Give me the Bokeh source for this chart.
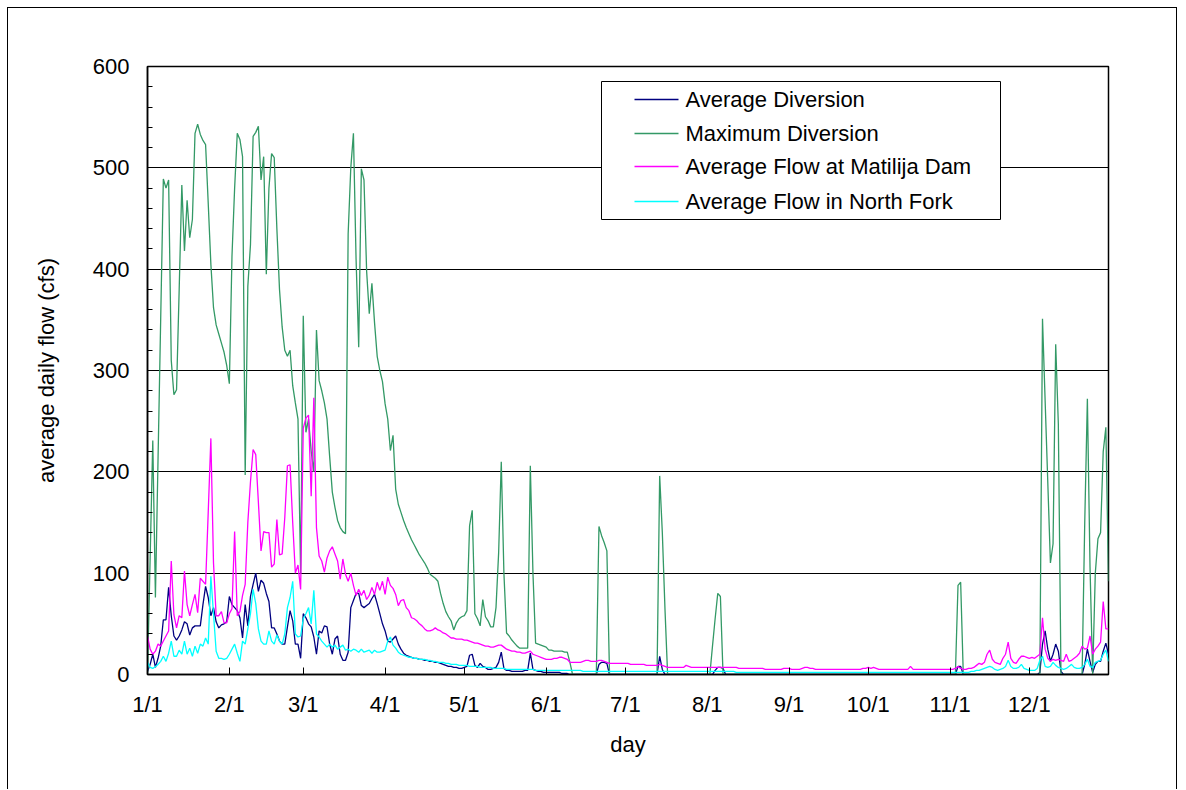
from bokeh.plotting import figure
from bokeh.models import Range1d, FixedTicker, BoxAnnotation
from bokeh.core.properties import value
from bokeh.embed import file_html
from bokeh.resources import INLINE

# ---------------- data (daily values, Jan 1 .. Dec 31) ----------------
month_labels = ["1/1", "2/1", "3/1", "4/1", "5/1", "6/1", "7/1", "8/1", "9/1", "10/1", "11/1", "12/1"]
month_start_day = [0, 31, 59, 90, 120, 151, 181, 212, 243, 273, 304, 334]
y_major = [0, 100, 200, 300, 400, 500, 600]
y_minor = [0, 20, 40, 60, 80, 100, 120, 140, 160, 180, 200, 220, 240, 260, 280, 300,
           320, 340, 360, 380, 400, 420, 440, 460, 480, 500, 520, 540, 560, 580, 600]

series_names = ["Average Diversion", "Maximum Diversion",
                "Average Flow at Matilija Dam", "Average Flow in North Fork"]

avg_diversion = [
    3, 10, 20, 7, 16, 28, 54, 54, 86, 58, 38, 34, 38, 44, 52, 50, 39, 46, 48, 48, 48, 69, 87, 76, 58, 66, 52, 46, 49, 50, 52,
    77, 69, 66, 63, 56, 36, 69, 48, 77, 89, 100, 82, 93, 90, 80, 72, 46, 46, 40, 33, 30, 30, 47, 63, 53, 30, 30, 16,
    60, 56, 50, 47, 37, 20, 43, 41, 48, 47, 30, 20, 35, 38, 20, 14, 14, 22, 66, 73, 80, 80, 68, 66, 68, 70, 75, 79, 70, 60, 50,
    43, 33, 32, 35, 38, 30, 25, 21, 19, 18, 17, 16, 16, 15, 15, 14, 14, 13, 13, 12, 12, 11, 10, 9, 8, 8, 7, 7, 6, 6,
    7, 8, 19, 20, 9, 7, 11, 8, 7, 5, 5, 6, 7, 12, 22, 6, 4, 4, 3, 3, 3, 3, 3, 4, 4, 21, 5, 4, 3, 3, 2,
    2, 2, 2, 2, 2, 2, 1, 1, 1, 0, 0, 0, 0, 0, 0, 0, 0, 0, 0, 0, 10, 12, 12, 11, 0, 0, 0, 0, 0, 0,
    0, 0, 0, 0, 0, 0, 0, 0, 0, 0, 0, 0, 0, 18, 5, 0, 0, 0, 0, 0, 0, 0, 0, 0, 0, 0, 0, 0, 0, 0, 0,
    0, 0, 0, 4, 7, 7, 6, 0, 0, 0, 0, 0, 0, 0, 0, 0, 0, 0, 0, 0, 0, 0, 0, 0, 0, 0, 0, 0, 0, 0, 0,
    0, 0, 0, 0, 0, 0, 0, 0, 0, 0, 0, 0, 0, 0, 0, 0, 0, 0, 0, 0, 0, 0, 0, 0, 0, 0, 0, 0, 0, 0,
    0, 0, 0, 0, 0, 0, 0, 0, 0, 0, 0, 0, 0, 0, 0, 0, 0, 0, 0, 0, 0, 0, 0, 0, 0, 0, 0, 0, 0, 0, 0,
    0, 0, 0, 8, 8, 0, 0, 0, 0, 0, 0, 0, 0, 0, 0, 0, 0, 0, 0, 0, 0, 0, 0, 0, 0, 0, 0, 0, 0, 0,
    0, 0, 0, 0, 2, 30, 43, 25, 13, 20, 30, 23, 3, 0, 0, 0, 0, 0, 0, 0, 0, 10, 25, 13, 2, 10, 13, 13, 23, 31, 20,
]

max_diversion = [
    0, 115, 231, 76, 214, 351, 489, 480, 488, 310, 276, 281, 380, 483, 418, 468, 431, 449, 534, 543, 533, 527, 523, 465, 405, 362, 345, 336, 327, 318, 305,
    287, 413, 480, 534, 528, 511, 197, 383, 424, 531, 535, 541, 488, 511, 395, 480, 514, 510, 440, 380, 343, 320, 314, 320, 285, 268, 252, 100,
    354, 239, 252, 220, 200, 340, 290, 280, 268, 252, 215, 180, 165, 152, 145, 141, 139, 435, 500, 534, 410, 323, 499, 488, 398, 356, 386, 347, 314, 300, 289,
    267, 252, 221, 236, 183, 168, 160, 152, 145, 139, 133, 128, 123, 118, 114, 110, 105, 99, 97, 95, 92, 80, 70, 62, 57, 53, 44, 51, 55, 57,
    58, 63, 147, 162, 60, 55, 48, 74, 57, 53, 47, 47, 66, 120, 210, 100, 41, 38, 34, 31, 28, 26, 26, 26, 26, 206, 100, 31, 30, 29, 28,
    27, 24, 24, 23, 23, 23, 23, 22, 22, 12, 0, 0, 0, 0, 0, 0, 0, 0, 0, 0, 146, 137, 130, 122, 0, 0, 0, 0, 0, 0,
    0, 0, 0, 0, 0, 0, 0, 0, 0, 0, 0, 0, 0, 196, 140, 65, 0, 0, 0, 0, 0, 0, 0, 0, 0, 0, 0, 0, 0, 0, 0,
    0, 0, 28, 55, 80, 77, 0, 0, 0, 0, 0, 0, 0, 0, 0, 0, 0, 0, 0, 0, 0, 0, 0, 0, 0, 0, 0, 0, 0, 0, 0,
    0, 0, 0, 0, 0, 0, 0, 0, 0, 0, 0, 0, 0, 0, 0, 0, 0, 0, 0, 0, 0, 0, 0, 0, 0, 0, 0, 0, 0, 0,
    0, 0, 0, 0, 0, 0, 0, 0, 0, 0, 0, 0, 0, 0, 0, 0, 0, 0, 0, 0, 0, 0, 0, 0, 0, 0, 0, 0, 0, 0, 0,
    0, 0, 0, 88, 91, 0, 0, 0, 0, 0, 0, 0, 0, 0, 0, 0, 0, 0, 0, 0, 0, 0, 0, 0, 0, 0, 0, 0, 0, 0,
    0, 0, 0, 0, 0, 351, 270, 190, 110, 129, 326, 247, 0, 0, 0, 0, 0, 0, 0, 0, 0, 150, 272, 106, 0, 100, 134, 140, 220, 244, 92,
]

avg_flow_matilija = [
    38, 25, 20, 23, 30, 28, 33, 38, 43, 112, 59, 46, 58, 56, 102, 69, 58, 69, 79, 61, 95, 92, 89, 160, 233, 110, 58, 58, 62, 51, 51,
    60, 65, 141, 58, 62, 78, 89, 150, 190, 222, 217, 170, 122, 141, 140, 140, 106, 109, 153, 118, 119, 155, 206, 207, 150, 100, 108, 84,
    243, 253, 256, 176, 273, 145, 117, 112, 101, 115, 122, 126, 119, 112, 94, 114, 99, 92, 100, 88, 78, 84, 78, 83, 74, 78, 86, 79, 91, 83, 92,
    79, 96, 88, 85, 79, 68, 73, 74, 66, 63, 56, 55, 53, 50, 48, 45, 43, 43, 44, 46, 44, 43, 41, 40, 38, 36, 36, 35, 35, 35,
    34, 34, 33, 32, 31, 31, 30, 29, 28, 28, 27, 27, 28, 29, 29, 27, 25, 24, 23, 23, 22, 22, 21, 21, 22, 23, 20, 19, 18, 17, 16,
    15, 15, 15, 16, 16, 17, 17, 16, 15, 12, 12, 12, 12, 12, 13, 14, 14, 13, 13, 13, 14, 14, 13, 12, 11, 11, 11, 11, 11, 11,
    11, 11, 10, 10, 10, 10, 10, 10, 9, 9, 9, 9, 9, 10, 9, 8, 7, 7, 7, 7, 7, 7, 7, 9, 8, 7, 7, 7, 7, 7, 7,
    7, 7, 7, 7, 7, 7, 7, 7, 7, 7, 7, 7, 6, 6, 6, 6, 6, 6, 6, 6, 6, 6, 5, 5, 5, 5, 5, 5, 5, 6, 6,
    6, 5, 5, 5, 5, 6, 7, 7, 6, 6, 5, 5, 5, 5, 5, 5, 5, 5, 5, 5, 5, 5, 5, 5, 5, 5, 5, 5, 6, 6,
    7, 6, 7, 6, 5, 5, 5, 5, 5, 5, 5, 5, 5, 5, 5, 5, 8, 5, 5, 5, 5, 5, 5, 5, 5, 5, 5, 5, 5, 5, 5,
    5, 5, 6, 8, 6, 5, 5, 6, 6, 7, 9, 11, 10, 12, 20, 24, 15, 12, 11, 10, 16, 20, 32, 16, 12, 11, 15, 18, 18, 17,
    16, 17, 16, 18, 20, 56, 25, 16, 13, 15, 14, 15, 14, 13, 20, 13, 14, 16, 18, 21, 28, 25, 26, 38, 20, 25, 28, 32, 72, 45, 45,
]

avg_flow_north_fork = [
    12, 7, 6, 8, 10, 13, 18, 13, 21, 33, 18, 18, 24, 20, 33, 20, 26, 18, 28, 21, 30, 28, 36, 30, 97, 60, 23, 16, 16, 15, 16,
    20, 25, 30, 21, 13, 33, 30, 45, 60, 84, 70, 45, 33, 30, 30, 43, 33, 30, 39, 33, 30, 40, 66, 76, 92, 40, 37, 38,
    55, 60, 66, 50, 83, 40, 37, 33, 30, 27, 30, 27, 29, 25, 27, 29, 24, 25, 23, 25, 24, 22, 25, 22, 23, 24, 21, 24, 22, 22, 23,
    24, 33, 37, 29, 26, 22, 20, 19, 18, 17, 17, 16, 16, 15, 15, 15, 14, 14, 13, 13, 12, 12, 12, 11, 11, 10, 10, 10, 9, 9,
    9, 9, 8, 8, 8, 8, 7, 7, 7, 7, 7, 6, 6, 6, 6, 6, 5, 5, 5, 5, 5, 5, 5, 5, 5, 5, 5, 4, 4, 4, 4,
    4, 4, 4, 4, 4, 4, 4, 4, 4, 4, 4, 4, 4, 4, 3, 3, 3, 3, 3, 3, 3, 3, 3, 3, 3, 3, 3, 3, 3, 3,
    3, 3, 3, 3, 3, 3, 3, 3, 3, 3, 3, 3, 3, 3, 3, 3, 3, 3, 3, 3, 3, 3, 3, 3, 3, 3, 3, 3, 3, 3, 3,
    3, 3, 3, 3, 3, 3, 3, 3, 3, 3, 3, 2, 2, 2, 2, 2, 2, 2, 2, 2, 2, 2, 2, 2, 2, 2, 2, 2, 2, 2, 2,
    2, 2, 2, 2, 2, 2, 2, 2, 2, 2, 2, 2, 2, 2, 2, 2, 2, 2, 2, 2, 2, 2, 2, 2, 2, 2, 2, 2, 2, 2,
    2, 2, 2, 2, 2, 2, 2, 2, 2, 2, 2, 2, 2, 2, 2, 2, 2, 2, 2, 2, 2, 2, 2, 2, 2, 2, 2, 2, 2, 2, 2,
    2, 2, 2, 2, 2, 2, 2, 2, 3, 3, 4, 4, 5, 6, 7, 8, 7, 5, 4, 5, 6, 8, 14, 8, 6, 6, 7, 10, 6, 5,
    4, 4, 4, 6, 14, 18, 8, 7, 8, 12, 9, 7, 6, 5, 6, 8, 10, 7, 6, 6, 7, 10, 15, 8, 7, 12, 13, 14, 20, 24, 13,
]

series_values = [avg_diversion, max_diversion, avg_flow_matilija, avg_flow_north_fork]
series_colors = ["#000080", "#339966", "#FF00FF", "#00FFFF"]

days = list(range(len(avg_diversion)))

# ---------------- layout ----------------
FONT = "Liberation Sans"
W, H = 1170, 782
FRAME_L, FRAME_T, FRAME_W, FRAME_H = 139, 58, 961, 608

p = figure(width=W, height=H, output_backend="svg", toolbar_location=None,
           x_range=Range1d(days[0], days[-1]), y_range=Range1d(y_major[0], y_major[-1]),
           min_border_left=FRAME_L, min_border_top=FRAME_T,
           min_border_right=W - FRAME_L - FRAME_W, min_border_bottom=H - FRAME_T - FRAME_H,
           background_fill_color="white", border_fill_color="white",
           outline_line_color="black", outline_line_width=1.5,
           styles={"margin": "7px 0 0 7px",
                   "border-left": "1px solid #000000",
                   "border-top": "1px solid #000000",
                   "border-right": "1px solid #000000"})

# axes
p.xaxis.ticker = FixedTicker(ticks=month_start_day)
p.xaxis.major_label_overrides = {d: lab for d, lab in zip(month_start_day, month_labels)}
p.yaxis.ticker = FixedTicker(ticks=y_major, minor_ticks=y_minor)
for ax in (p.xaxis[0], p.yaxis[0]):
    ax.axis_line_color = "black"
    ax.axis_line_width = 1.5
    ax.major_tick_line_color = "black"
    ax.major_tick_out = 0
    ax.minor_tick_out = 0
    ax.major_label_text_font = FONT
    ax.major_label_text_font_size = "22px"
    ax.major_label_text_color = "black"
    ax.axis_label_text_font = FONT
    ax.axis_label_text_font_size = "22px"
    ax.axis_label_text_font_style = "normal"
    ax.axis_label_text_color = "black"
p.xaxis.major_tick_in = 7
p.xaxis.minor_tick_line_color = None
p.xaxis.major_label_standoff = 17
p.xaxis.axis_label = "day"
p.xaxis.axis_label_standoff = 12
p.yaxis.major_tick_in = 5
p.yaxis.minor_tick_in = 5
p.yaxis.minor_tick_line_color = "black"
p.yaxis.major_label_standoff = 18
p.yaxis.axis_label = "average daily flow (cfs)"
p.yaxis.axis_label_standoff = 31

p.xgrid.visible = False
p.ygrid.grid_line_color = "black"
p.ygrid.grid_line_width = 1

# data lines
for vals, col in zip(series_values, series_colors):
    p.line(days, vals, line_color=col, line_width=1.3)

# ---------------- legend (drawn by hand, positions in frame pixels) ----------------
def fx(px):
    return p.x_range.start + px / FRAME_W * (p.x_range.end - p.x_range.start)

def fy(px):
    return p.y_range.end - px / FRAME_H * (p.y_range.end - p.y_range.start)

box = BoxAnnotation(left=fx(454), right=fx(853), top=fy(15), bottom=fy(153),
                    fill_color="white", fill_alpha=1.0, line_color="black",
                    line_width=1, line_alpha=1.0, level="annotation")
p.add_layout(box)

legend_rows = [33, 67, 100, 135]
for name, col, row in zip(series_names, series_colors, legend_rows):
    p.line([fx(487), fx(531)], [fy(row), fy(row)], line_color=col, line_width=1.5, level="overlay")
    p.text(x=[fx(538)], y=[fy(row)], text=[name], text_font=value(FONT),
           text_font_size="22px", text_baseline="middle", text_align="left",
           text_color="black", level="overlay")

open("out.html", "w").write(file_html(p, INLINE))
